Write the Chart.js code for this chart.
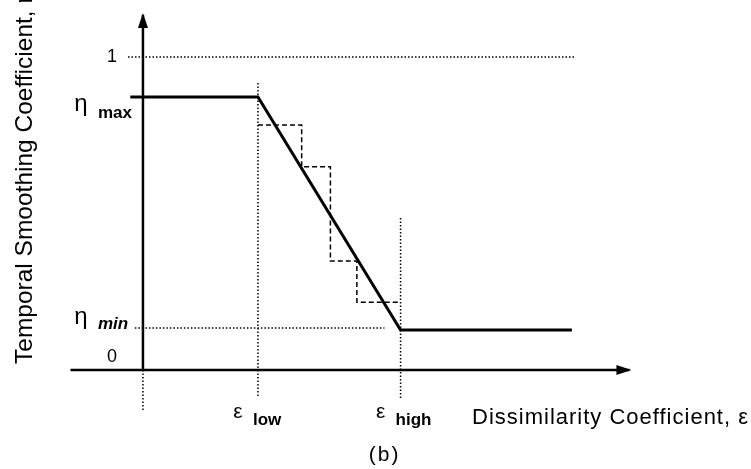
<!DOCTYPE html>
<html>
<head>
<meta charset="utf-8">
<script src="https://cdn.jsdelivr.net/npm/chart.js@4.4.0/dist/chart.umd.min.js"></script>
<style>
html, body { margin: 0; padding: 0; background: #fff; }
</style>
</head>
<body>
<canvas id="chart" width="751" height="469"></canvas>
<script>
// Thresholds on the dissimilarity axis and smoothing levels
const epsLevels = [1, 2.24];          // eps_low, eps_high
const epsNames = ['low', 'high'];
const etaLevels = [0.872, 0.128];     // eta_max, eta_min
const etaNames = ['max', 'min'];
const tickValues = [1, 0];
const tickLabels = ['1', '0'];

// Solid piecewise-linear smoothing coefficient
const curveX = [-0.11, 1, 2.24, 3.73];
const curveY = [0.872, 0.872, 0.128, 0.128];

// Quantised (dashed) staircase
const stepX = [1, 1.38, 1.38, 1.63, 1.63, 1.86, 1.86, 2.24];
const stepY = [0.783, 0.783, 0.649, 0.649, 0.348, 0.348, 0.217, 0.217];

// Axis extents
const axisXRange = [-0.63, 4.23];
const axisYRange = [-0.128, 1.134];

const pts = (xs, ys) => xs.map((x, i) => ({ x: x, y: ys[i] }));

const dotted = [1.5, 2];
const lineDefaults = { showLine: true, pointRadius: 0, borderColor: '#000', fill: false, tension: 0 };

const datasets = [
    // reference line at 1
    Object.assign({}, lineDefaults, { data: pts([-0.13, 3.75], [1, 1]), borderWidth: 1.5, borderDash: dotted }),
    // eta_min guide
    Object.assign({}, lineDefaults, { data: pts([-0.07, 2.1], [0.134, 0.134]), borderWidth: 1.5, borderDash: dotted }),
    // eps_low / eps_high guides
    Object.assign({}, lineDefaults, { data: pts([epsLevels[0], epsLevels[0]], [0.917, -0.089]), borderWidth: 1.5, borderDash: dotted }),
    Object.assign({}, lineDefaults, { data: pts([epsLevels[1], epsLevels[1]], [0.486, -0.089]), borderWidth: 1.5, borderDash: dotted }),
    // y axis below zero (dotted)
    Object.assign({}, lineDefaults, { data: pts([0, 0], [0, axisYRange[0]]), borderWidth: 1.5, borderDash: dotted }),
    // axes
    Object.assign({}, lineDefaults, { data: pts(axisXRange, [0, 0]), borderWidth: 2.5 }),
    Object.assign({}, lineDefaults, { data: pts([0, 0], [0, axisYRange[1]]), borderWidth: 2.5 }),
    // staircase
    Object.assign({}, lineDefaults, { data: pts(stepX, stepY), borderWidth: 1.5, borderDash: [5, 3] }),
    // main curve
    Object.assign({}, lineDefaults, { data: pts(curveX, curveY), borderWidth: 3 })
];

// Arrowheads and text labels
const annotate = {
    id: 'annotate',
    afterDatasetsDraw(chart) {
        const ctx = chart.ctx;
        const xs = chart.scales.x, ys = chart.scales.y;
        const x0 = xs.getPixelForValue(0), y0 = ys.getPixelForValue(0);
        ctx.save();
        ctx.fillStyle = '#000';

        // arrowheads
        const yTip = ys.getPixelForValue(axisYRange[1]);
        ctx.beginPath();
        ctx.moveTo(x0, yTip - 2);
        ctx.lineTo(x0 - 5, yTip + 13);
        ctx.lineTo(x0 + 5, yTip + 13);
        ctx.closePath();
        ctx.fill();
        const xTip = xs.getPixelForValue(axisXRange[1]);
        ctx.beginPath();
        ctx.moveTo(xTip + 2, y0);
        ctx.lineTo(xTip - 13, y0 - 5);
        ctx.lineTo(xTip - 13, y0 + 5);
        ctx.closePath();
        ctx.fill();

        // tick labels 1 and 0
        ctx.font = '18px "Liberation Sans"';
        ctx.textAlign = 'right';
        ctx.textBaseline = 'middle';
        tickValues.forEach((v, i) => {
            const dy = v === 0 ? -13 : 0;
            ctx.fillText(tickLabels[i], x0 - 26, ys.getPixelForValue(v) + dy);
        });

        // eta labels
        ctx.textBaseline = 'alphabetic';
        etaLevels.forEach((v, i) => {
            const py = ys.getPixelForValue(v);
            const base = i === 0 ? py + 14 : py - 6;
            ctx.textAlign = 'center';
            ctx.font = '24px "Liberation Sans"';
            ctx.fillText('\u03b7', x0 - 62, base);
            ctx.textAlign = 'left';
            ctx.font = i === 0 ? 'bold 17px "Liberation Sans"' : 'italic bold 17px "Liberation Sans"';
            ctx.fillText(etaNames[i], x0 - 45, i === 0 ? base + 7 : base + 5);
        });

        // eps labels
        epsLevels.forEach((v, i) => {
            const px = xs.getPixelForValue(v);
            ctx.textAlign = 'center';
            ctx.font = '21px "Liberation Sans"';
            ctx.fillText('\u03b5', px - 20, 418);
            ctx.textAlign = 'left';
            ctx.font = 'bold 17px "Liberation Sans"';
            ctx.fillText(epsNames[i], px - 5, 425);
        });

        // axis titles
        ctx.font = '22px "Liberation Sans"';
        ctx.letterSpacing = '1px';
        ctx.textAlign = 'left';
        ctx.fillText('Dissimilarity Coefficient, \u03b5', 472, 424);
        ctx.textAlign = 'center';
        ctx.textBaseline = 'middle';
        ctx.font = '21px "Liberation Sans"';
        ctx.letterSpacing = '2px';
        ctx.fillText('(b)', xs.getPixelForValue(epsLevels[1]) - 16, 455);
        ctx.letterSpacing = '0px';

        ctx.translate(32, 364);
        ctx.rotate(-Math.PI / 2);
        ctx.textAlign = 'left';
        ctx.textBaseline = 'alphabetic';
        ctx.font = '24.5px "Liberation Sans"';
        ctx.fillText('Temporal Smoothing Coefficient, \u03b7', 0, 0);
        ctx.restore();
    }
};

new Chart(document.getElementById('chart'), {
    type: 'scatter',
    data: { datasets: datasets },
    options: {
        responsive: false,
        animation: false,
        layout: { padding: 0 },
        plugins: { legend: { display: false }, tooltip: { enabled: false } },
        scales: {
            x: { type: 'linear', min: -1.243, max: 5.287, display: false },
            y: { type: 'linear', min: -0.316, max: 1.182, display: false }
        }
    },
    plugins: [annotate]
});
</script>
</body>
</html>
